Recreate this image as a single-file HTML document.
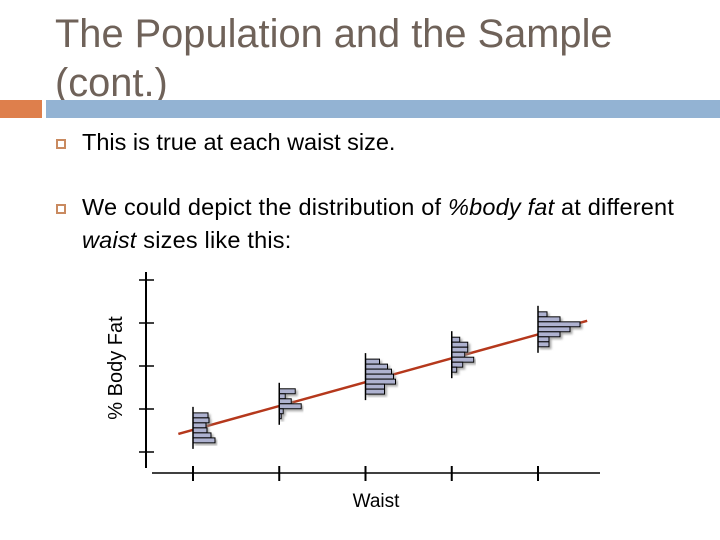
<!DOCTYPE html>
<html><head><meta charset="utf-8"><style>
body{margin:0;width:720px;height:540px;background:#fff;overflow:hidden;position:relative;font-family:"Liberation Sans",sans-serif}
.t{position:absolute;left:55px;top:10px;font-size:39.8px;line-height:49px;color:#6f6259;margin:0;font-weight:normal}
.b{position:absolute;font-size:23.5px;color:#000;left:82px;line-height:33px}
.sq{position:absolute;left:56px;width:6px;height:6px;border:2px solid #c98a60}
</style></head><body>
<h1 class="t">The Population and the Sample<br>(cont.)</h1>
<div style="position:absolute;left:0;top:100px;width:42px;height:18px;background:#de7f4c"></div>
<div style="position:absolute;left:46px;top:100px;width:674px;height:18px;background:#93b3d3"></div>
<div class="sq" style="top:139px"></div>
<div class="b" style="top:126px">This is true at each waist size.</div>
<div class="sq" style="top:204px"></div>
<div class="b" style="top:191px;letter-spacing:0.2px">We could depict the distribution of <i>%body fat</i> at different<br><i>waist</i> sizes like this:</div>
<svg id="c" width="720" height="540" style="position:absolute;left:0;top:0">
<defs><filter id="sh"><feDropShadow dx="2" dy="2" stdDeviation="1" flood-color="#888" flood-opacity="0.7"/></filter></defs>
</svg>
<script>
const waistTicks=[0,1,2,3,4];
const yTicks=[0,1,2,3,4];
const lineStart=[-0.17,0.42];
const lineEnd=[4.57,3.05];
const histTop=[0.91,1.47,2.16,2.67,3.26];
const hist0=[15,16,13,14,18,22];
const hist1=[16,6,12,22,4,2];
const hist2=[14,22,26,28,30,19,19];
const hist3=[8,16,16,13,22,11,5];
const hist4=[9,22,42,32,22,11,11];
const hists=[hist0,hist1,hist2,hist3,hist4];
const X=v=>193+v*86.25, Y=v=>452-v*43;
const s=document.getElementById('c'),NS='http://www.w3.org/2000/svg';
function mk(t,a){const e=document.createElementNS(NS,t);for(const k in a)e.setAttribute(k,a[k]);s.appendChild(e);return e;}
let e=mk('line',{x1:146,y1:272,x2:146,y2:468,stroke:'#000','stroke-width':2});

e=mk('line',{x1:152,y1:473,x2:600,y2:473,stroke:'#000','stroke-width':1.5});

yTicks.forEach(v=>{const t=mk('line',{x1:139,x2:154,y1:Y(v),y2:Y(v),stroke:'#000','stroke-width':1.5});
});
waistTicks.forEach(v=>{const t=mk('line',{x1:X(v),x2:X(v),y1:466,y2:481,stroke:'#000','stroke-width':2});
});
e=mk('line',{x1:X(lineStart[0]),y1:Y(lineStart[1]),x2:X(lineEnd[0]),y2:Y(lineEnd[1]),stroke:'#b5381c','stroke-width':2.5});

hists.forEach((h,i)=>{const x0=X(waistTicks[i]),top=Y(histTop[i]);const bh=5;
const g=mk('g',{filter:'url(#sh)'});
h.forEach((w,j)=>{const r=document.createElementNS(NS,'rect');
r.setAttribute('x',x0);r.setAttribute('y',top+j*bh);r.setAttribute('width',w);r.setAttribute('height',bh);
r.setAttribute('fill','#aeb2d0');r.setAttribute('stroke','#000');r.setAttribute('stroke-width','1');
g.appendChild(r);});
const l=mk('line',{x1:x0,x2:x0,y1:top-6,y2:top+h.length*bh+6,stroke:'#000','stroke-width':1.5});
});
e=mk('text',{x:376,y:507,'text-anchor':'middle','font-size':19,'font-family':'Liberation Sans Narrow, Liberation Sans, sans-serif'});
e.textContent='Waist';
e=mk('text',{x:0,y:0,transform:'translate(122,368) rotate(-90)','text-anchor':'middle','font-size':20,'font-family':'Liberation Sans Narrow, Liberation Sans, sans-serif'});
e.textContent='% Body Fat';
</script>
</body></html>
